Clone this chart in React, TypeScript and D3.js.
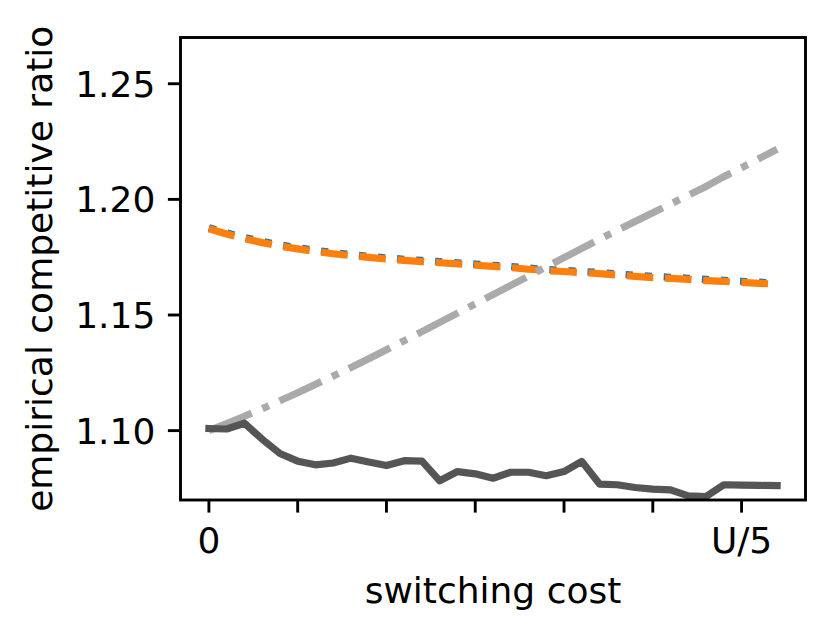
import * as d3 from 'd3';
import React from 'react';

// x positions (index along switching cost axis, 0 .. U/5 at 30)
const switchingCost = [
    0, 1, 2, 3, 4, 5, 6, 7, 8, 9, 10, 11, 12, 13, 14, 15, 16,
    17, 18, 19, 20, 21, 22, 23, 24, 25, 26, 27, 28, 29, 30, 31, 32,
];

const blueDotted = [
    1.1878, 1.1855, 1.1835, 1.1818, 1.1803, 1.1791, 1.178, 1.177, 1.1762, 1.1754, 1.1747,
    1.1741, 1.1736, 1.1731, 1.1726, 1.172, 1.1715, 1.171, 1.1703, 1.1697, 1.1693, 1.1688,
    1.1684, 1.1678, 1.1672, 1.1667, 1.1663, 1.1659, 1.1654, 1.165, 1.1646, 1.1642, 1.1638,
];

const orangeDashed = [
    1.1873, 1.185, 1.183, 1.1813, 1.1798, 1.1786, 1.1775, 1.1765, 1.1757, 1.1749, 1.1742,
    1.1736, 1.1731, 1.1726, 1.1721, 1.1715, 1.171, 1.1705, 1.1698, 1.1692, 1.1688, 1.1683,
    1.1679, 1.1673, 1.1667, 1.1662, 1.1658, 1.1654, 1.1649, 1.1645, 1.1641, 1.1637, 1.1633,
];

const grayDashDot = [
    1.1, 1.103, 1.1062, 1.1095, 1.1129, 1.1164, 1.12, 1.1236, 1.1273, 1.1311, 1.135,
    1.1389, 1.1428, 1.1468, 1.1508, 1.1548, 1.1588, 1.1628, 1.1668, 1.1708, 1.1748, 1.1788,
    1.1828, 1.1866, 1.1904, 1.1942, 1.198, 1.2018, 1.2056, 1.2098, 1.2137, 1.2177, 1.2217,
];

const darkSolid = [
    1.1009, 1.1007, 1.1032, 1.0963, 1.0901, 1.0868, 1.0852, 1.086, 1.0881, 1.0864, 1.0849,
    1.087, 1.0868, 1.0783, 1.0823, 1.0813, 1.0794, 1.082, 1.082, 1.0805, 1.0823, 1.0867,
    1.0769, 1.0766, 1.0754, 1.0747, 1.0744, 1.0718, 1.0715, 1.0766, 1.0764, 1.0763, 1.0762,
];

const xTickValues = [0, 5, 10, 15, 20, 25, 30];
const xTickLabels = ['0', '', '', '', '', '', 'U/5'];
const yTickValues = [1.1, 1.15, 1.2, 1.25];

const W = 832;
const H = 637;
const left = 180.5;
const right = 805.5;
const top = 37.5;
const bottom = 500;
const FONT = '"DejaVu Sans", sans-serif';
const FS = 36;
const LW = 7.2;

export default function App() {
    const x = d3.scaleLinear().domain([-1.6, 33.6]).range([left, right]);
    const y = d3.scaleLinear().domain([1.07, 1.27]).range([bottom, top]);

    const line = (vals: number[]) =>
        d3
            .line<number>()
            .x((_, i) => x(switchingCost[i]))
            .y((d) => y(d))(vals) ?? '';

    return (
        <svg width={W} height={H} style={{ position: 'absolute', left: 0, top: 0 }}>
            <rect width={W} height={H} fill="white" />
            <defs>
                <clipPath id="plot">
                    <rect x={left} y={top} width={right - left} height={bottom - top} />
                </clipPath>
            </defs>

            <g clipPath="url(#plot)" fill="none" strokeLinejoin="round">
                <path d={line(blueDotted)} stroke="#1f77b4" strokeWidth={LW}
                    strokeDasharray="7.2 11.9" />
                <path d={line(orangeDashed)} stroke="#ff7f0e" strokeWidth={LW}
                    strokeDasharray="26.7 11.6" />
                <path d={line(grayDashDot)} stroke="#aaaaaa" strokeWidth={LW}
                    strokeDasharray="46.2 11.6 7.2 11.6" />
                <path d={line(darkSolid)} stroke="#555555" strokeWidth={LW}
                    strokeLinecap="square" />
            </g>

            {/* spines */}
            <rect x={left} y={top} width={right - left} height={bottom - top}
                fill="none" stroke="black" strokeWidth={2.9} />

            {/* x ticks */}
            {xTickValues.map((v, i) => (
                <g key={`x${v}`}>
                    <line x1={x(v)} x2={x(v)} y1={bottom} y2={bottom + 12.6}
                        stroke="black" strokeWidth={2.9} />
                    {xTickLabels[i] && (
                        <text x={x(v)} y={bottom + 25.2 + 0.76 * FS} textAnchor="middle"
                            fontFamily={FONT} fontSize={FS} fill="black">
                            {xTickLabels[i]}
                        </text>
                    )}
                </g>
            ))}

            {/* y ticks */}
            {yTickValues.map((v) => (
                <g key={`y${v}`}>
                    <line x1={left - 12.6} x2={left} y1={y(v)} y2={y(v)}
                        stroke="black" strokeWidth={2.9} />
                    <text x={left - 25.2} y={y(v) + 13} textAnchor="end"
                        fontFamily={FONT} fontSize={FS} fill="black">
                        {v.toFixed(2)}
                    </text>
                </g>
            ))}

            <text x={(left + right) / 2} y={602.8} textAnchor="middle"
                fontFamily={FONT} fontSize={FS} fill="black">
                switching cost
            </text>
            <text transform={`translate(52.4, ${(top + bottom) / 2}) rotate(-90)`}
                textAnchor="middle" fontFamily={FONT} fontSize={FS} fill="black">
                empirical competitive ratio
            </text>
        </svg>
    );
}
